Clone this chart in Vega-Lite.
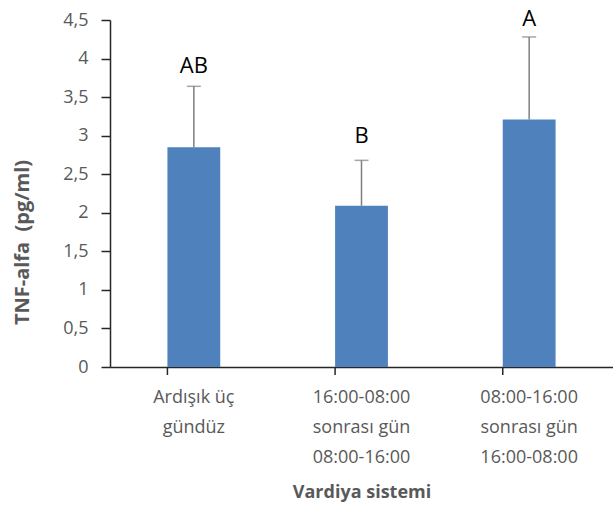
{
  "$schema": "https://vega.github.io/schema/vega-lite/v6.json",
  "width": 503,
  "height": 347,
  "autosize": "none",
  "padding": {"left": 110, "top": 20, "right": 0, "bottom": 138},
  "background": "white",
  "config": {
    "view": {"stroke": null},
    "font": "Open Sans",
    "axisY": {
      "labelOverlap": false,
      "grid": false,
      "labelFontSize": 18,
      "labelColor": "#595959",
      "labelPadding": 13,
      "tickSize": 9,
      "tickColor": "#262626",
      "tickWidth": 1.5,
      "domainColor": "#262626",
      "domainWidth": 1.5,
      "titleFontSize": 20,
      "titleFontWeight": "bold",
      "titleColor": "#595959",
      "titleAngle": 270,
      "titleX": -88,
      "titleY": 222,
      "titleAlign": "center",
      "titleBaseline": "middle"
    }
  },
  "data": {"values": [
    {"cat": "Ardışık üç\ngündüz", "mean": 2.85, "upper": 3.64, "letter": "AB", "ly": 3.81},
    {"cat": "16:00-08:00\nsonrası gün\n08:00-16:00", "mean": 2.09, "upper": 2.68, "letter": "B", "ly": 2.9},
    {"cat": "08:00-16:00\nsonrası gün\n16:00-08:00", "mean": 3.21, "upper": 4.28, "letter": "A", "ly": 4.42}
  ]},
  "encoding": {
    "x": {
      "field": "cat", "type": "nominal", "sort": null,
      "scale": {"paddingInner": 0.685, "paddingOuter": 0.3425},
      "axis": {
        "title": "Vardiya sistemi",
        "labelAngle": 0,
        "labelExpr": "split(datum.label, '\\n')",
        "labelLineHeight": 30,
        "labelFontSize": 18,
        "labelColor": "#595959",
        "labelPadding": 21,
        "ticks": false,
        "domainColor": "#262626",
        "domainWidth": 1.5,
        "titleFontSize": 18,
        "titleFontWeight": "bold",
        "titleColor": "#595959",
        "titlePadding": 17
      }
    }
  },
  "layer": [
    {
      "mark": {"type": "bar", "color": "#4F81BD"},
      "encoding": {
        "y": {
          "field": "mean", "type": "quantitative",
          "scale": {"domain": [0, 4.5], "nice": false},
          "axis": {"values": [0, 0.5, 1, 1.5, 2, 2.5, 3, 3.5, 4, 4.5], "format": ",.1~f", "labelExpr": "replace(datum.label, '.', ',')", "title": "TNF-alfa\u00a0\u00a0(pg/ml)"}
        }
      }
    },
    {
      "mark": {"type": "rule", "color": "#7F7F7F", "strokeWidth": 1.5},
      "encoding": {
        "y": {"field": "mean", "type": "quantitative",
          "axis": {"values": [0, 0.5, 1, 1.5, 2, 2.5, 3, 3.5, 4, 4.5], "format": ",.1~f", "labelExpr": "replace(datum.label, '.', ',')", "title": "TNF-alfa\u00a0\u00a0(pg/ml)"}},
        "y2": {"field": "upper"}
      }
    },
    {
      "mark": {"type": "tick", "color": "#7F7F7F", "thickness": 1.5, "size": 14},
      "encoding": {
        "y": {"field": "upper", "type": "quantitative",
          "axis": {"values": [0, 0.5, 1, 1.5, 2, 2.5, 3, 3.5, 4, 4.5], "format": ",.1~f", "labelExpr": "replace(datum.label, '.', ',')", "title": "TNF-alfa\u00a0\u00a0(pg/ml)"}}
      }
    },
    {
      "mark": {"type": "rule", "color": "#262626", "strokeWidth": 1.5, "y2Offset": 8},
      "encoding": {
        "x": {"field": "cat", "type": "nominal", "sort": null, "bandPosition": 0},
        "y": {"datum": 0, "type": "quantitative",
          "axis": {"values": [0, 0.5, 1, 1.5, 2, 2.5, 3, 3.5, 4, 4.5], "format": ",.1~f", "labelExpr": "replace(datum.label, '.', ',')", "title": "TNF-alfa\u00a0\u00a0(pg/ml)"}},
        "y2": {"datum": 0}
      }
    },
    {
      "mark": {"type": "text", "fontSize": 22, "color": "#000000", "baseline": "alphabetic", "font": "Open Sans"},
      "encoding": {
        "y": {"field": "ly", "type": "quantitative",
          "axis": {"values": [0, 0.5, 1, 1.5, 2, 2.5, 3, 3.5, 4, 4.5], "format": ",.1~f", "labelExpr": "replace(datum.label, '.', ',')", "title": "TNF-alfa\u00a0\u00a0(pg/ml)"}},
        "text": {"field": "letter"}
      }
    }
  ]
}
